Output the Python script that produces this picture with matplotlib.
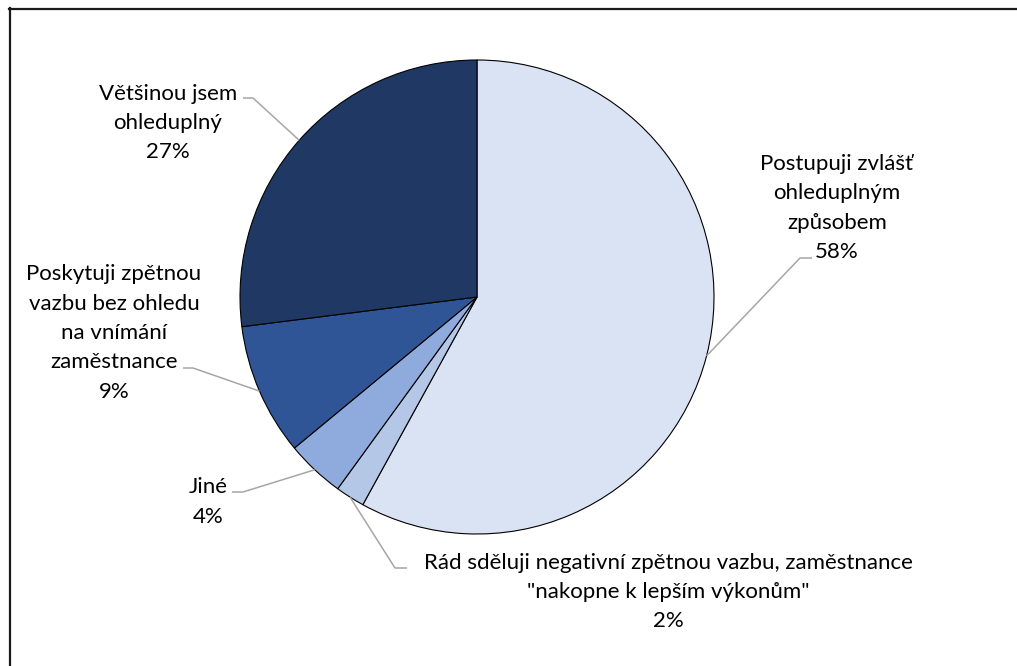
import matplotlib.pyplot as plt
from matplotlib.lines import Line2D
import numpy as np

# survey answers, in drawing order (clockwise from 12 o'clock)
labels = [
    "Postupuji zvlášť\nohleduplným\nzpůsobem",
    "Rád sděluji negativní zpětnou vazbu, zaměstnance\n\"nakopne k lepším výkonům\"",
    "Jiné",
    "Poskytuji zpětnou\nvazbu bez ohledu\nna vnímání\nzaměstnance",
    "Většinou jsem\nohleduplný",
]
shares = [58, 2, 4, 9, 27]
colors = ["#DAE3F3", "#B4C7E7", "#8FAADC", "#2F5597", "#203864"]

W, H = 1017, 666
plt.rcParams['font.family'] = ['Lato', 'DejaVu Sans']

fig = plt.figure(figsize=(W / 100, H / 100), dpi=100)
ax = fig.add_axes([0, 0, 1, 1])

cx, cy, r = 477, H - 297, 237
wedges, _ = ax.pie(shares, colors=colors, startangle=90, counterclock=False,
                   center=(cx, cy), radius=r,
                   wedgeprops=dict(edgecolor='black', linewidth=0.8))
ax.set_xlim(0, W)
ax.set_ylim(0, H)
ax.set_aspect('equal')
ax.axis('off')

# label centre, elbow point and end of the leader line (pixel coords, y from top)
label_layout = [
    ((837, 208), (800, 258), (812, 258)),
    ((668, 592), (395, 568), (407, 568)),
    ((208, 502), (243, 492), (232, 492)),
    ((114, 333), (193, 368), (183, 368)),
    ((168, 123), (253, 98), (243, 98)),
]

for w, lab, val, (txt, elbow, end) in zip(wedges, labels, shares, label_layout):
    mid = np.deg2rad((w.theta1 + w.theta2) / 2)
    px = cx + r * np.cos(mid)
    py = cy + r * np.sin(mid)
    ax.plot([px, elbow[0], end[0]], [py, H - elbow[1], H - end[1]],
            color='#A6A6A6', linewidth=1.1, solid_capstyle='butt')
    ax.text(txt[0], H - txt[1], f"{lab}\n{val}%", ha='center', va='center',
            fontsize=16, linespacing=1.58, color='black')

# chart border (left and top edges)
fig.add_artist(Line2D([9.5 / W, 9.5 / W], [0, 1 - 8 / H], color='#1a1a1a',
                      linewidth=1.6, transform=fig.transFigure))
fig.add_artist(Line2D([9 / W, 1], [1 - 8.5 / H, 1 - 8.5 / H], color='#1a1a1a',
                      linewidth=1.6, transform=fig.transFigure))

fig.savefig('out.png', dpi=100, facecolor='white')
